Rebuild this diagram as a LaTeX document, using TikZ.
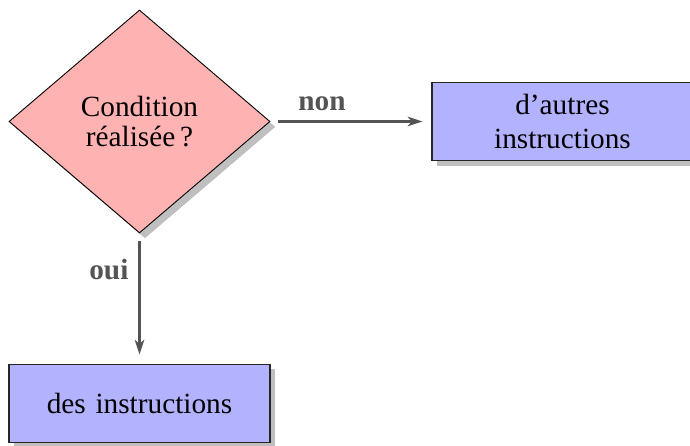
\documentclass[tikz,border=0pt]{standalone}
\usepackage{fontspec}
\setmainfont{Liberation Serif}
\usetikzlibrary{shapes.geometric,shadows,arrows.meta}
\begin{document}
\begin{tikzpicture}[x=0.444pt,y=-0.444pt,
  decision/.style={diamond,draw=black,line width=0.4pt,fill=red!30,
    minimum width=115.9pt,minimum height=99pt,inner sep=0pt,
    text width=56pt,align=center,font=\fontsize{13}{13.5}\selectfont,
    drop shadow={shadow xshift=2.4pt,shadow yshift=-2.4pt,fill=black!25,opacity=1}},
  action/.style={rectangle,draw=black!85,line width=0.5pt,fill=blue!30,
    minimum width=115.9pt,minimum height=35pt,inner sep=0pt,
    text width=110pt,align=center,font=\fontsize{13}{15.5}\selectfont,
    drop shadow={shadow xshift=2.4pt,shadow yshift=-2.4pt,fill=black!25,opacity=1}},
  link/.style={draw=black!67,line width=1.2pt,
    -{Stealth[length=6.5pt,width=4.2pt,inset=1.8pt]},shorten <=3.4pt,shorten >=4pt},
  tag/.style={text=black!67,font=\fontsize{13}{13}\selectfont\bfseries}]
\useasboundingbox (0,0) rectangle (690,446);
\node[decision] (cond) at (139.5,121.5) {Condition\\ réalisée\,?};
\node[action] (autres) at (562.5,121.5) {d’autres\\ instructions};
\node[action] (des) at (139.5,403.5) {des instructions};
\draw[link] (cond.east) -- node[tag,pos=0.32,above=1pt] {non} (autres.west);
\draw[link] (cond.south) -- node[tag,pos=0.28,left=1pt] {oui} (des.north);
\end{tikzpicture}
\end{document}
